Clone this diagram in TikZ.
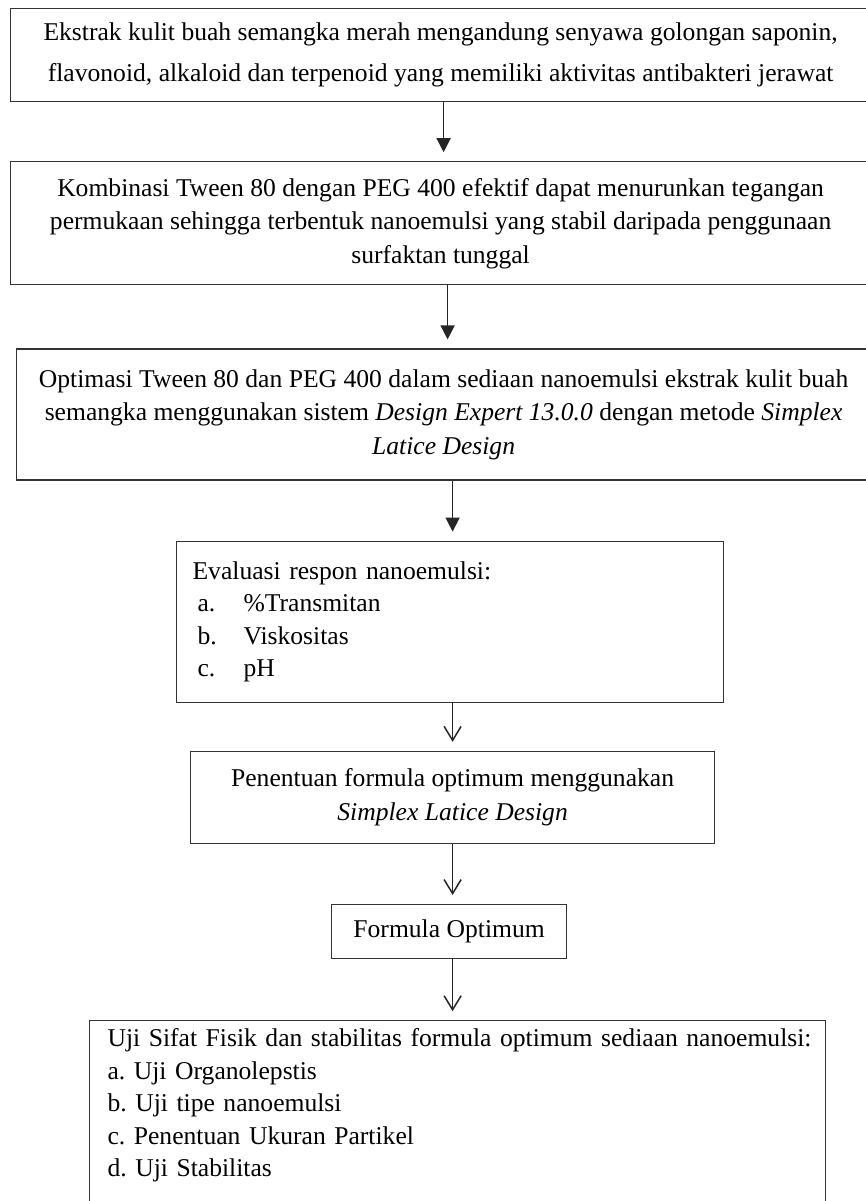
\documentclass[tikz,border=0pt]{standalone}
\usepackage{fontspec}
\setmainfont{Liberation Serif}
\usetikzlibrary{positioning,arrows.meta}
\frenchspacing

\begin{document}
\begin{tikzpicture}[
    x=1pt, y=1pt,
    font=\fontsize{25.6}{33.5}\selectfont,
    box/.style={
        rectangle,
        draw=black!80,
        line width=1.2pt,
        inner sep=0pt,
        align=center
    },
    listbox/.style={
        rectangle,
        draw=black!80,
        line width=1.2pt,
        inner ysep=8pt,
        font=\fontsize{25.6}{32.5}\selectfont,
        align=left
    },
    solidarrow/.style={-{Triangle[width=14pt,length=14pt]}, line width=1.5pt, black!85, shorten >=9pt},
    openarrow/.style={-{Straight Barb[width=17pt,length=14pt]}, line width=1.5pt, black!85, shorten >=9pt}
]
\useasboundingbox (0,0) rectangle (866,-1201);

\node[box, anchor=north west, minimum width=860pt, minimum height=93pt] (ekstrak) at (10,-8)
    {Ekstrak kulit buah semangka merah mengandung senyawa golongan saponin,\\[8pt]
     flavonoid, alkaloid dan terpenoid yang memiliki aktivitas antibakteri jerawat};
\node[box, below=59pt of ekstrak, minimum width=860pt, minimum height=123pt] (kombinasi)
    {Kombinasi Tween 80 dengan PEG 400 efektif dapat menurunkan tegangan\\
     permukaan sehingga terbentuk nanoemulsi yang stabil daripada penggunaan\\
     surfaktan tunggal};
\node[box, below=63pt of kombinasi, xshift=3pt, minimum width=854pt, minimum height=131pt] (optimasi)
    {Optimasi Tween 80 dan PEG 400 dalam sediaan nanoemulsi ekstrak kulit buah\\
     semangka menggunakan sistem \textit{Design Expert 13.0.0} dengan metode \textit{Simplex}\\
     \textit{Latice Design}};
\node[listbox, below=60pt of optimasi, xshift=6.5pt, inner xsep=16pt, text width=515pt, minimum height=161pt] (evaluasi)
    {\mbox{Evaluasi respon nanoemulsi:}\\
     \hspace*{5pt}\makebox[46pt][l]{a.}\%Transmitan\\
     \hspace*{5pt}\makebox[46pt][l]{b.}Viskositas\\
     \hspace*{5pt}\makebox[46pt][l]{c.}pH\\[-8pt]};
\node[box, below=48pt of evaluasi, xshift=2.5pt, minimum width=524pt, minimum height=92pt] (penentuan)
    {Penentuan formula optimum menggunakan\\
     \textit{Simplex Latice Design}};
\node[box, below=60pt of penentuan, xshift=-3.5pt, minimum width=235pt, minimum height=54pt] (formula)
    {Formula Optimum};
\node[listbox, below=61pt of formula, xshift=8.5pt, inner xsep=18pt, text width=700pt, text depth=150pt] (uji)
    {\mbox{Uji Sifat Fisik dan stabilitas formula optimum sediaan nanoemulsi:}\\
     a. Uji Organolepstis\\
     b. Uji tipe nanoemulsi\\
     c. Penentuan Ukuran Partikel\\
     d. Uji Stabilitas};

\draw[solidarrow] ([xshift=3pt]ekstrak.south) -- ([xshift=3pt]ekstrak.south |- kombinasi.north);
\draw[solidarrow] ([xshift=7pt]kombinasi.south) -- ([xshift=7pt]kombinasi.south |- optimasi.north);
\draw[solidarrow] ([xshift=9pt]optimasi.south) -- ([xshift=9pt]optimasi.south |- evaluasi.north);
\draw[openarrow] ([xshift=2.5pt]evaluasi.south) -- ([xshift=2.5pt]evaluasi.south |- penentuan.north);
\draw[openarrow] (penentuan.south) -- (penentuan.south |- formula.north);
\draw[openarrow] ([xshift=3.5pt]formula.south) -- ([xshift=3.5pt]formula.south |- uji.north);

\end{tikzpicture}
\end{document}
